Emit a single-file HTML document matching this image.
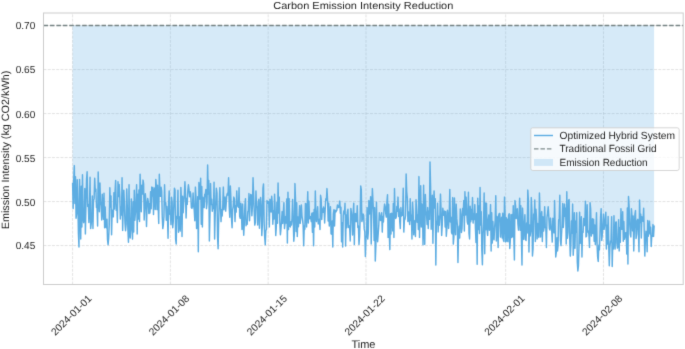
<!DOCTYPE html>
<html><head><meta charset="utf-8"><style>
html,body{margin:0;padding:0;background:#fff;}
svg{display:block;font-family:"Liberation Sans",sans-serif;text-rendering:geometricPrecision;}
</style></head><body>
<svg width="685" height="349" viewBox="0 0 685 349">
<defs><filter id="b" filterUnits="userSpaceOnUse" x="0" y="0" width="685" height="349" color-interpolation-filters="sRGB"><feConvolveMatrix order="3" kernelMatrix="0.01145 0.08410 0.01145 0.08410 0.61780 0.08410 0.01145 0.08410 0.01145" divisor="1" edgeMode="none"/></filter></defs>
<rect width="685" height="349" fill="#fff"/>
<g filter="url(#b)">
<g stroke="#cccccc" stroke-opacity="0.7" stroke-width="0.8" stroke-dasharray="2.96 1.28"><line x1="43.5" y1="245.55" x2="683.2" y2="245.55"/><line x1="43.5" y1="201.55" x2="683.2" y2="201.55"/><line x1="43.5" y1="157.55" x2="683.2" y2="157.55"/><line x1="43.5" y1="113.55" x2="683.2" y2="113.55"/><line x1="43.5" y1="69.55" x2="683.2" y2="69.55"/><line x1="43.5" y1="25.55" x2="683.2" y2="25.55"/><line x1="72.58" y1="284.5" x2="72.58" y2="13.0"/><line x1="170.38" y1="284.5" x2="170.38" y2="13.0"/><line x1="268.17" y1="284.5" x2="268.17" y2="13.0"/><line x1="365.97" y1="284.5" x2="365.97" y2="13.0"/><line x1="505.68" y1="284.5" x2="505.68" y2="13.0"/><line x1="603.48" y1="284.5" x2="603.48" y2="13.0"/></g>
<path d="M72.58,25.55 L72.58,182.70 L73.16,208.50 L73.74,179.53 L74.33,165.60 L74.91,203.51 L75.49,176.80 L76.07,218.19 L76.65,213.29 L77.24,179.80 L77.82,200.60 L78.40,233.34 L78.98,247.00 L79.57,179.46 L80.15,205.65 L80.73,239.10 L81.31,186.14 L81.89,227.00 L82.48,174.71 L83.06,217.33 L83.64,222.65 L84.22,218.96 L84.80,188.44 L85.39,233.90 L85.97,203.95 L86.55,179.24 L87.13,171.70 L87.72,206.56 L88.30,204.37 L88.88,222.50 L89.46,208.81 L90.04,177.34 L90.63,228.60 L91.21,223.97 L91.79,217.30 L92.37,195.99 L92.95,228.60 L93.54,200.76 L94.12,198.89 L94.70,178.30 L95.28,191.33 L95.86,189.17 L96.45,207.50 L97.03,206.70 L97.61,226.00 L98.19,172.00 L98.78,195.83 L99.36,211.82 L99.94,182.90 L100.52,201.28 L101.10,205.71 L101.69,219.90 L102.27,194.19 L102.85,209.87 L103.43,219.27 L104.01,193.16 L104.60,227.70 L105.18,206.90 L105.76,227.10 L106.34,227.72 L106.93,219.25 L107.51,239.56 L108.09,244.70 L108.67,237.91 L109.25,225.08 L109.84,187.80 L110.42,206.91 L111.00,195.94 L111.58,234.70 L112.16,210.10 L112.75,211.69 L113.33,216.87 L113.91,192.65 L114.49,208.96 L115.08,190.96 L115.66,180.40 L116.24,210.38 L116.82,205.47 L117.40,222.50 L117.99,181.80 L118.57,196.63 L119.15,184.39 L119.73,195.47 L120.31,219.00 L120.90,207.31 L121.48,215.13 L122.06,177.80 L122.64,230.40 L123.22,208.79 L123.81,190.13 L124.39,203.14 L124.97,222.64 L125.55,230.70 L126.14,224.49 L126.72,189.03 L127.30,206.65 L127.88,229.25 L128.46,242.30 L129.05,184.80 L129.63,235.15 L130.21,238.04 L130.79,223.79 L131.37,198.93 L131.96,228.92 L132.54,239.10 L133.12,201.67 L133.70,232.10 L134.29,190.18 L134.87,220.22 L135.45,212.54 L136.03,201.16 L136.61,184.80 L137.20,233.90 L137.78,194.32 L138.36,218.93 L138.94,190.03 L139.52,221.60 L140.11,174.30 L140.69,195.64 L141.27,211.66 L141.85,185.24 L142.44,194.14 L143.02,180.10 L143.60,183.75 L144.18,219.91 L144.76,204.09 L145.35,193.72 L145.93,203.62 L146.51,226.50 L147.09,204.36 L147.67,198.51 L148.26,201.28 L148.84,213.59 L149.42,203.76 L150.00,212.90 L150.58,191.69 L151.17,208.76 L151.75,187.10 L152.33,196.08 L152.91,187.51 L153.50,214.60 L154.08,191.04 L154.66,188.10 L155.24,209.54 L155.82,179.50 L156.41,187.35 L156.99,209.64 L157.57,185.24 L158.15,205.90 L158.73,223.40 L159.32,174.30 L159.90,190.70 L160.48,196.38 L161.06,187.16 L161.65,191.22 L162.23,217.01 L162.81,228.60 L163.39,224.29 L163.97,216.71 L164.56,184.80 L165.14,204.82 L165.72,202.75 L166.30,220.26 L166.88,206.39 L167.47,216.55 L168.05,238.30 L168.63,203.53 L169.21,190.90 L169.79,214.26 L170.38,214.85 L170.96,224.74 L171.54,197.34 L172.12,202.22 L172.71,227.70 L173.29,221.15 L173.87,203.18 L174.45,188.30 L175.03,190.12 L175.62,239.23 L176.20,244.00 L176.78,216.11 L177.36,218.35 L177.94,190.24 L178.53,232.26 L179.11,216.83 L179.69,222.89 L180.27,230.91 L180.86,187.40 L181.44,201.11 L182.02,236.50 L182.60,196.29 L183.18,212.71 L183.77,202.56 L184.35,195.26 L184.93,181.80 L185.51,195.09 L186.09,218.10 L186.68,198.41 L187.26,204.35 L187.84,190.24 L188.42,184.80 L189.00,189.25 L189.59,196.73 L190.17,191.73 L190.75,194.28 L191.33,207.60 L191.92,208.34 L192.50,205.81 L193.08,193.00 L193.66,205.37 L194.24,210.51 L194.83,220.70 L195.41,187.10 L195.99,197.66 L196.57,228.60 L197.15,218.20 L197.74,196.84 L198.32,251.70 L198.90,182.50 L199.48,191.58 L200.07,199.13 L200.65,178.30 L201.23,224.30 L201.81,186.50 L202.39,226.90 L202.98,197.22 L203.56,199.55 L204.14,207.60 L204.72,194.40 L205.30,194.00 L205.89,189.41 L206.47,208.64 L207.05,203.16 L207.63,165.00 L208.22,194.12 L208.80,180.40 L209.38,240.90 L209.96,214.85 L210.54,183.60 L211.13,204.48 L211.71,199.24 L212.29,211.22 L212.87,204.79 L213.45,208.47 L214.04,182.20 L214.62,239.10 L215.20,214.69 L215.78,201.35 L216.36,188.30 L216.95,192.74 L217.53,236.49 L218.11,248.80 L218.69,220.72 L219.28,203.33 L219.86,187.80 L220.44,204.97 L221.02,221.60 L221.60,209.63 L222.19,216.07 L222.77,205.44 L223.35,187.10 L223.93,209.68 L224.51,197.73 L225.10,197.10 L225.68,211.10 L226.26,203.16 L226.84,195.13 L227.43,193.16 L228.01,194.97 L228.59,177.80 L229.17,206.49 L229.75,217.20 L230.34,186.00 L230.92,198.92 L231.50,218.90 L232.08,227.70 L232.66,209.70 L233.25,206.54 L233.83,197.10 L234.41,199.13 L234.99,221.60 L235.57,206.06 L236.16,212.11 L236.74,190.90 L237.32,205.27 L237.90,206.33 L238.49,207.26 L239.07,187.80 L239.65,216.40 L240.23,218.31 L240.81,203.24 L241.40,212.47 L241.98,229.50 L242.56,204.10 L243.14,219.72 L243.72,235.30 L244.31,223.65 L244.89,206.23 L245.47,198.80 L246.05,225.72 L246.64,220.91 L247.22,224.20 L247.80,211.76 L248.38,210.15 L248.96,193.60 L249.55,220.70 L250.13,203.75 L250.71,194.40 L251.29,194.98 L251.87,215.81 L252.46,205.22 L253.04,177.80 L253.62,194.44 L254.20,211.71 L254.79,225.10 L255.37,222.45 L255.95,190.90 L256.53,206.48 L257.11,207.09 L257.70,225.10 L258.28,202.45 L258.86,199.30 L259.44,228.21 L260.02,213.24 L260.61,197.54 L261.19,205.08 L261.77,235.60 L262.35,225.55 L262.93,188.30 L263.52,183.90 L264.10,221.61 L264.68,237.00 L265.26,244.70 L265.85,230.36 L266.43,229.78 L267.01,200.60 L267.59,203.18 L268.17,201.33 L268.76,202.75 L269.34,226.90 L269.92,199.14 L270.50,201.06 L271.08,212.08 L271.67,196.20 L272.25,202.80 L272.83,224.20 L273.41,210.94 L274.00,219.04 L274.58,194.22 L275.16,209.60 L275.74,235.60 L276.32,227.04 L276.91,202.18 L277.49,223.28 L278.07,183.00 L278.65,213.08 L279.23,197.10 L279.82,222.98 L280.40,234.70 L280.98,228.62 L281.56,220.64 L282.15,211.60 L282.73,223.48 L283.31,212.26 L283.89,202.80 L284.47,228.60 L285.06,222.76 L285.64,216.46 L286.22,223.05 L286.80,198.90 L287.38,243.00 L287.97,192.30 L288.55,229.43 L289.13,198.80 L289.71,226.20 L290.29,226.90 L290.88,221.83 L291.46,224.94 L292.04,218.67 L292.62,199.43 L293.21,219.25 L293.79,241.20 L294.37,233.74 L294.95,183.60 L295.53,200.04 L296.12,231.60 L296.70,202.80 L297.28,236.50 L297.86,217.09 L298.44,226.68 L299.03,218.30 L299.61,205.80 L300.19,223.40 L300.77,216.82 L301.36,204.90 L301.94,215.75 L302.52,219.96 L303.10,224.87 L303.68,245.80 L304.27,225.68 L304.85,229.35 L305.43,203.50 L306.01,203.93 L306.59,226.90 L307.18,210.08 L307.76,191.80 L308.34,222.91 L308.92,201.10 L309.50,218.69 L310.09,216.42 L310.67,217.70 L311.25,221.60 L311.83,213.21 L312.42,232.32 L313.00,212.80 L313.58,245.80 L314.16,209.54 L314.74,226.98 L315.33,190.90 L315.91,216.93 L316.49,221.60 L317.07,213.61 L317.65,206.70 L318.24,223.96 L318.82,222.94 L319.40,219.18 L319.98,229.50 L320.57,195.30 L321.15,199.03 L321.73,219.49 L322.31,208.91 L322.89,212.36 L323.48,207.00 L324.06,209.28 L324.64,223.00 L325.22,209.42 L325.80,198.80 L326.39,200.15 L326.97,188.60 L327.55,199.82 L328.13,220.95 L328.71,203.20 L329.30,226.00 L329.88,217.44 L330.46,206.70 L331.04,233.79 L331.63,234.13 L332.21,221.00 L332.79,247.00 L333.37,213.75 L333.95,209.72 L334.54,226.00 L335.12,210.14 L335.70,212.11 L336.28,211.20 L336.86,210.07 L337.45,204.90 L338.03,207.60 L338.61,207.55 L339.19,205.51 L339.78,201.10 L340.36,213.15 L340.94,207.21 L341.52,241.80 L342.10,222.84 L342.69,247.00 L343.27,215.49 L343.85,210.95 L344.43,213.76 L345.01,203.20 L345.60,246.10 L346.18,214.91 L346.76,227.70 L347.34,212.20 L347.93,209.30 L348.51,227.47 L349.09,225.64 L349.67,228.04 L350.25,240.90 L350.84,208.40 L351.42,212.59 L352.00,217.49 L352.58,235.10 L353.16,213.56 L353.75,203.20 L354.33,244.40 L354.91,214.31 L355.49,213.57 L356.07,221.60 L356.66,221.53 L357.24,205.80 L357.82,227.60 L358.40,226.00 L358.99,244.40 L359.57,236.64 L360.15,218.14 L360.73,186.00 L361.31,189.95 L361.90,221.60 L362.48,218.53 L363.06,214.06 L363.64,215.32 L364.22,228.90 L364.81,231.92 L365.39,256.60 L365.97,238.67 L366.55,235.35 L367.14,207.60 L367.72,239.10 L368.30,232.70 L368.88,200.60 L369.46,213.98 L370.05,208.81 L370.63,196.78 L371.21,244.00 L371.79,210.96 L372.37,188.60 L372.96,200.65 L373.54,212.85 L374.12,240.41 L374.70,207.60 L375.28,261.00 L375.87,245.88 L376.45,202.30 L377.03,234.31 L377.61,241.80 L378.20,234.02 L378.78,225.66 L379.36,212.80 L379.94,215.60 L380.52,220.53 L381.11,220.14 L381.69,212.80 L382.27,232.10 L382.85,216.55 L383.43,221.95 L384.02,209.68 L384.60,204.10 L385.18,206.31 L385.76,213.70 L386.35,217.12 L386.93,201.68 L387.51,194.80 L388.09,237.40 L388.67,204.29 L389.26,233.60 L389.84,249.60 L390.42,213.70 L391.00,234.02 L391.58,213.28 L392.17,213.75 L392.75,230.90 L393.33,203.50 L393.91,237.40 L394.50,188.60 L395.08,215.13 L395.66,218.50 L396.24,217.23 L396.82,206.59 L397.41,211.21 L397.99,197.10 L398.57,216.40 L399.15,209.01 L399.73,221.17 L400.32,228.60 L400.90,207.60 L401.48,216.11 L402.06,213.85 L402.64,215.13 L403.23,188.30 L403.81,232.10 L404.39,220.24 L404.97,219.31 L405.56,215.33 L406.14,173.90 L406.72,191.71 L407.30,197.90 L407.88,221.60 L408.47,211.89 L409.05,214.94 L409.63,224.43 L410.21,198.80 L410.79,220.58 L411.38,215.22 L411.96,239.10 L412.54,202.30 L413.12,211.41 L413.71,234.85 L414.29,226.19 L414.87,220.60 L415.45,236.50 L416.03,199.70 L416.62,209.79 L417.20,222.24 L417.78,214.90 L418.36,229.42 L418.94,176.60 L419.53,237.40 L420.11,202.62 L420.69,185.70 L421.27,227.02 L421.86,204.07 L422.44,207.15 L423.02,244.70 L423.60,185.30 L424.18,228.76 L424.77,244.40 L425.35,194.40 L425.93,211.25 L426.51,213.77 L427.09,224.41 L427.68,207.60 L428.26,228.60 L428.84,210.98 L429.42,219.37 L430.00,162.00 L430.59,185.75 L431.17,229.26 L431.75,211.24 L432.33,195.30 L432.92,243.30 L433.50,204.48 L434.08,190.90 L434.66,207.96 L435.24,198.80 L435.83,265.10 L436.41,221.30 L436.99,224.53 L437.57,203.20 L438.15,231.90 L438.74,216.22 L439.32,225.18 L439.90,215.88 L440.48,194.10 L441.07,210.48 L441.65,235.40 L442.23,225.30 L442.81,208.30 L443.39,212.95 L443.98,215.24 L444.56,211.10 L445.14,226.92 L445.72,211.60 L446.30,236.20 L446.89,228.51 L447.47,210.14 L448.05,214.91 L448.63,228.40 L449.21,215.54 L449.80,189.50 L450.38,222.07 L450.96,217.33 L451.54,232.37 L452.13,233.92 L452.71,197.60 L453.29,244.10 L453.87,237.14 L454.45,197.90 L455.04,228.04 L455.62,234.74 L456.20,204.10 L456.78,218.63 L457.36,224.83 L457.95,262.50 L458.53,234.68 L459.11,226.30 L459.69,238.00 L460.28,209.01 L460.86,213.97 L461.44,232.52 L462.02,228.38 L462.60,208.59 L463.19,215.21 L463.77,200.60 L464.35,231.00 L464.93,191.80 L465.51,215.00 L466.10,197.10 L466.68,211.05 L467.26,222.02 L467.84,224.15 L468.43,192.30 L469.01,233.38 L469.59,238.90 L470.17,206.30 L470.75,221.79 L471.34,209.40 L471.92,219.45 L472.50,197.60 L473.08,223.10 L473.66,214.41 L474.25,219.57 L474.83,204.60 L475.41,227.76 L475.99,242.41 L476.57,213.83 L477.16,264.30 L477.74,198.11 L478.32,229.52 L478.90,205.87 L479.49,233.60 L480.07,187.40 L480.65,225.10 L481.23,211.60 L481.81,249.64 L482.40,264.80 L482.98,233.27 L483.56,222.05 L484.14,193.00 L484.72,253.80 L485.31,202.88 L485.89,229.65 L486.47,203.13 L487.05,229.48 L487.64,235.40 L488.22,219.79 L488.80,215.03 L489.38,230.20 L489.96,222.63 L490.55,204.60 L491.13,251.10 L491.71,212.80 L492.29,243.01 L492.87,221.48 L493.46,237.71 L494.04,239.70 L494.62,227.08 L495.20,220.56 L495.78,195.80 L496.37,241.01 L496.95,216.56 L497.53,217.19 L498.11,247.60 L498.70,215.14 L499.28,213.45 L499.86,213.70 L500.44,237.10 L501.02,223.04 L501.61,217.13 L502.19,237.97 L502.77,213.32 L503.35,240.06 L503.93,241.50 L504.52,197.10 L505.10,215.13 L505.68,241.92 L506.26,217.84 L506.85,241.05 L507.43,219.23 L508.01,241.67 L508.59,215.30 L509.17,213.70 L509.76,248.50 L510.34,239.98 L510.92,214.81 L511.50,237.41 L512.08,214.44 L512.67,236.78 L513.25,205.80 L513.83,237.73 L514.41,259.90 L515.00,200.60 L515.58,205.83 L516.16,218.56 L516.74,212.44 L517.32,208.70 L517.91,223.91 L518.49,230.10 L519.07,217.31 L519.65,198.30 L520.23,230.16 L520.82,205.80 L521.40,238.25 L521.98,265.10 L522.56,208.10 L523.14,223.36 L523.73,239.44 L524.31,226.16 L524.89,214.73 L525.47,239.15 L526.06,240.60 L526.64,223.01 L527.22,233.11 L527.80,190.10 L528.38,200.18 L528.97,252.00 L529.55,224.92 L530.13,236.02 L530.71,231.23 L531.29,197.60 L531.88,209.89 L532.46,256.00 L533.04,248.74 L533.62,214.20 L534.21,219.01 L534.79,200.00 L535.37,241.50 L535.95,209.30 L536.53,218.47 L537.12,238.90 L537.70,223.38 L538.28,233.39 L538.86,237.46 L539.44,193.00 L540.03,213.65 L540.61,237.01 L541.19,214.67 L541.77,211.60 L542.35,241.50 L542.94,216.69 L543.52,231.09 L544.10,227.52 L544.68,206.70 L545.27,227.37 L545.85,228.09 L546.43,247.60 L547.01,217.30 L547.59,213.29 L548.18,206.70 L548.76,215.93 L549.34,228.54 L549.92,230.10 L550.50,218.10 L551.09,225.32 L551.67,229.90 L552.25,242.10 L552.83,218.23 L553.42,225.07 L554.00,232.89 L554.58,200.60 L555.16,228.85 L555.74,257.00 L556.33,251.87 L556.91,237.69 L557.49,250.90 L558.07,245.37 L558.65,220.24 L559.24,218.39 L559.82,195.30 L560.40,240.08 L560.98,245.60 L561.56,234.48 L562.15,223.19 L562.73,203.51 L563.31,227.56 L563.89,217.66 L564.48,204.10 L565.06,216.33 L565.64,208.26 L566.22,243.90 L566.80,191.80 L567.39,238.19 L567.97,232.37 L568.55,200.47 L569.13,199.50 L569.71,238.87 L570.30,256.10 L570.88,244.61 L571.46,220.91 L572.04,233.18 L572.63,204.10 L573.21,255.30 L573.79,244.74 L574.37,212.80 L574.95,248.27 L575.54,221.33 L576.12,232.37 L576.70,212.80 L577.28,261.63 L577.86,271.00 L578.45,265.66 L579.03,246.70 L579.61,212.30 L580.19,243.52 L580.78,232.54 L581.36,216.70 L581.94,257.00 L582.52,231.60 L583.10,232.35 L583.69,218.53 L584.27,225.59 L584.85,222.90 L585.43,201.30 L586.01,236.90 L586.60,236.12 L587.18,204.80 L587.76,232.13 L588.34,230.94 L588.92,234.38 L589.51,247.40 L590.09,202.70 L590.67,209.05 L591.25,236.08 L591.84,232.84 L592.42,218.84 L593.00,233.51 L593.58,219.30 L594.16,241.20 L594.75,224.98 L595.33,244.57 L595.91,233.43 L596.49,212.80 L597.07,244.95 L597.66,257.15 L598.24,261.40 L598.82,245.27 L599.40,249.88 L599.99,234.58 L600.57,217.40 L601.15,208.80 L601.73,240.40 L602.31,234.66 L602.90,224.73 L603.48,214.10 L604.06,229.37 L604.64,225.15 L605.22,218.98 L605.81,212.30 L606.39,249.10 L606.97,225.34 L607.55,243.91 L608.13,216.45 L608.72,245.96 L609.30,265.80 L609.88,247.48 L610.46,240.98 L611.05,241.87 L611.63,216.70 L612.21,266.60 L612.79,243.00 L613.37,248.97 L613.96,215.80 L614.54,242.19 L615.12,249.10 L615.70,222.35 L616.28,221.90 L616.87,243.21 L617.45,248.07 L618.03,245.34 L618.61,219.79 L619.20,250.90 L619.78,227.85 L620.36,242.20 L620.94,208.80 L621.52,229.27 L622.11,229.24 L622.69,211.80 L623.27,241.20 L623.85,221.59 L624.43,239.20 L625.02,236.58 L625.60,232.64 L626.18,232.72 L626.76,254.06 L627.35,207.90 L627.93,264.00 L628.51,196.50 L629.09,206.40 L629.67,222.87 L630.26,234.38 L630.84,236.90 L631.42,208.80 L632.00,216.07 L632.58,230.87 L633.17,215.95 L633.75,250.90 L634.33,228.59 L634.91,214.37 L635.49,210.60 L636.08,238.52 L636.66,234.17 L637.24,220.27 L637.82,219.27 L638.41,230.95 L638.99,251.80 L639.57,200.10 L640.15,222.53 L640.73,214.31 L641.32,237.96 L641.90,216.70 L642.48,218.40 L643.06,221.17 L643.64,208.30 L644.23,232.29 L644.81,256.10 L645.39,239.81 L645.97,231.33 L646.56,233.01 L647.14,251.80 L647.72,220.43 L648.30,236.25 L648.88,229.68 L649.47,221.10 L650.05,234.07 L650.63,227.18 L651.21,246.50 L651.79,235.54 L652.38,236.46 L652.96,224.60 L653.54,236.40 L654.12,225.50 L654.12,25.55 Z" fill="#5dade2" fill-opacity="0.25" stroke="none"/>
<line x1="43.5" y1="25.45" x2="683.2" y2="25.45" stroke="#758283" stroke-width="1.5" stroke-dasharray="4.5 1.95"/>
<polyline points="72.58,182.70 73.16,208.50 73.74,179.53 74.33,165.60 74.91,203.51 75.49,176.80 76.07,218.19 76.65,213.29 77.24,179.80 77.82,200.60 78.40,233.34 78.98,247.00 79.57,179.46 80.15,205.65 80.73,239.10 81.31,186.14 81.89,227.00 82.48,174.71 83.06,217.33 83.64,222.65 84.22,218.96 84.80,188.44 85.39,233.90 85.97,203.95 86.55,179.24 87.13,171.70 87.72,206.56 88.30,204.37 88.88,222.50 89.46,208.81 90.04,177.34 90.63,228.60 91.21,223.97 91.79,217.30 92.37,195.99 92.95,228.60 93.54,200.76 94.12,198.89 94.70,178.30 95.28,191.33 95.86,189.17 96.45,207.50 97.03,206.70 97.61,226.00 98.19,172.00 98.78,195.83 99.36,211.82 99.94,182.90 100.52,201.28 101.10,205.71 101.69,219.90 102.27,194.19 102.85,209.87 103.43,219.27 104.01,193.16 104.60,227.70 105.18,206.90 105.76,227.10 106.34,227.72 106.93,219.25 107.51,239.56 108.09,244.70 108.67,237.91 109.25,225.08 109.84,187.80 110.42,206.91 111.00,195.94 111.58,234.70 112.16,210.10 112.75,211.69 113.33,216.87 113.91,192.65 114.49,208.96 115.08,190.96 115.66,180.40 116.24,210.38 116.82,205.47 117.40,222.50 117.99,181.80 118.57,196.63 119.15,184.39 119.73,195.47 120.31,219.00 120.90,207.31 121.48,215.13 122.06,177.80 122.64,230.40 123.22,208.79 123.81,190.13 124.39,203.14 124.97,222.64 125.55,230.70 126.14,224.49 126.72,189.03 127.30,206.65 127.88,229.25 128.46,242.30 129.05,184.80 129.63,235.15 130.21,238.04 130.79,223.79 131.37,198.93 131.96,228.92 132.54,239.10 133.12,201.67 133.70,232.10 134.29,190.18 134.87,220.22 135.45,212.54 136.03,201.16 136.61,184.80 137.20,233.90 137.78,194.32 138.36,218.93 138.94,190.03 139.52,221.60 140.11,174.30 140.69,195.64 141.27,211.66 141.85,185.24 142.44,194.14 143.02,180.10 143.60,183.75 144.18,219.91 144.76,204.09 145.35,193.72 145.93,203.62 146.51,226.50 147.09,204.36 147.67,198.51 148.26,201.28 148.84,213.59 149.42,203.76 150.00,212.90 150.58,191.69 151.17,208.76 151.75,187.10 152.33,196.08 152.91,187.51 153.50,214.60 154.08,191.04 154.66,188.10 155.24,209.54 155.82,179.50 156.41,187.35 156.99,209.64 157.57,185.24 158.15,205.90 158.73,223.40 159.32,174.30 159.90,190.70 160.48,196.38 161.06,187.16 161.65,191.22 162.23,217.01 162.81,228.60 163.39,224.29 163.97,216.71 164.56,184.80 165.14,204.82 165.72,202.75 166.30,220.26 166.88,206.39 167.47,216.55 168.05,238.30 168.63,203.53 169.21,190.90 169.79,214.26 170.38,214.85 170.96,224.74 171.54,197.34 172.12,202.22 172.71,227.70 173.29,221.15 173.87,203.18 174.45,188.30 175.03,190.12 175.62,239.23 176.20,244.00 176.78,216.11 177.36,218.35 177.94,190.24 178.53,232.26 179.11,216.83 179.69,222.89 180.27,230.91 180.86,187.40 181.44,201.11 182.02,236.50 182.60,196.29 183.18,212.71 183.77,202.56 184.35,195.26 184.93,181.80 185.51,195.09 186.09,218.10 186.68,198.41 187.26,204.35 187.84,190.24 188.42,184.80 189.00,189.25 189.59,196.73 190.17,191.73 190.75,194.28 191.33,207.60 191.92,208.34 192.50,205.81 193.08,193.00 193.66,205.37 194.24,210.51 194.83,220.70 195.41,187.10 195.99,197.66 196.57,228.60 197.15,218.20 197.74,196.84 198.32,251.70 198.90,182.50 199.48,191.58 200.07,199.13 200.65,178.30 201.23,224.30 201.81,186.50 202.39,226.90 202.98,197.22 203.56,199.55 204.14,207.60 204.72,194.40 205.30,194.00 205.89,189.41 206.47,208.64 207.05,203.16 207.63,165.00 208.22,194.12 208.80,180.40 209.38,240.90 209.96,214.85 210.54,183.60 211.13,204.48 211.71,199.24 212.29,211.22 212.87,204.79 213.45,208.47 214.04,182.20 214.62,239.10 215.20,214.69 215.78,201.35 216.36,188.30 216.95,192.74 217.53,236.49 218.11,248.80 218.69,220.72 219.28,203.33 219.86,187.80 220.44,204.97 221.02,221.60 221.60,209.63 222.19,216.07 222.77,205.44 223.35,187.10 223.93,209.68 224.51,197.73 225.10,197.10 225.68,211.10 226.26,203.16 226.84,195.13 227.43,193.16 228.01,194.97 228.59,177.80 229.17,206.49 229.75,217.20 230.34,186.00 230.92,198.92 231.50,218.90 232.08,227.70 232.66,209.70 233.25,206.54 233.83,197.10 234.41,199.13 234.99,221.60 235.57,206.06 236.16,212.11 236.74,190.90 237.32,205.27 237.90,206.33 238.49,207.26 239.07,187.80 239.65,216.40 240.23,218.31 240.81,203.24 241.40,212.47 241.98,229.50 242.56,204.10 243.14,219.72 243.72,235.30 244.31,223.65 244.89,206.23 245.47,198.80 246.05,225.72 246.64,220.91 247.22,224.20 247.80,211.76 248.38,210.15 248.96,193.60 249.55,220.70 250.13,203.75 250.71,194.40 251.29,194.98 251.87,215.81 252.46,205.22 253.04,177.80 253.62,194.44 254.20,211.71 254.79,225.10 255.37,222.45 255.95,190.90 256.53,206.48 257.11,207.09 257.70,225.10 258.28,202.45 258.86,199.30 259.44,228.21 260.02,213.24 260.61,197.54 261.19,205.08 261.77,235.60 262.35,225.55 262.93,188.30 263.52,183.90 264.10,221.61 264.68,237.00 265.26,244.70 265.85,230.36 266.43,229.78 267.01,200.60 267.59,203.18 268.17,201.33 268.76,202.75 269.34,226.90 269.92,199.14 270.50,201.06 271.08,212.08 271.67,196.20 272.25,202.80 272.83,224.20 273.41,210.94 274.00,219.04 274.58,194.22 275.16,209.60 275.74,235.60 276.32,227.04 276.91,202.18 277.49,223.28 278.07,183.00 278.65,213.08 279.23,197.10 279.82,222.98 280.40,234.70 280.98,228.62 281.56,220.64 282.15,211.60 282.73,223.48 283.31,212.26 283.89,202.80 284.47,228.60 285.06,222.76 285.64,216.46 286.22,223.05 286.80,198.90 287.38,243.00 287.97,192.30 288.55,229.43 289.13,198.80 289.71,226.20 290.29,226.90 290.88,221.83 291.46,224.94 292.04,218.67 292.62,199.43 293.21,219.25 293.79,241.20 294.37,233.74 294.95,183.60 295.53,200.04 296.12,231.60 296.70,202.80 297.28,236.50 297.86,217.09 298.44,226.68 299.03,218.30 299.61,205.80 300.19,223.40 300.77,216.82 301.36,204.90 301.94,215.75 302.52,219.96 303.10,224.87 303.68,245.80 304.27,225.68 304.85,229.35 305.43,203.50 306.01,203.93 306.59,226.90 307.18,210.08 307.76,191.80 308.34,222.91 308.92,201.10 309.50,218.69 310.09,216.42 310.67,217.70 311.25,221.60 311.83,213.21 312.42,232.32 313.00,212.80 313.58,245.80 314.16,209.54 314.74,226.98 315.33,190.90 315.91,216.93 316.49,221.60 317.07,213.61 317.65,206.70 318.24,223.96 318.82,222.94 319.40,219.18 319.98,229.50 320.57,195.30 321.15,199.03 321.73,219.49 322.31,208.91 322.89,212.36 323.48,207.00 324.06,209.28 324.64,223.00 325.22,209.42 325.80,198.80 326.39,200.15 326.97,188.60 327.55,199.82 328.13,220.95 328.71,203.20 329.30,226.00 329.88,217.44 330.46,206.70 331.04,233.79 331.63,234.13 332.21,221.00 332.79,247.00 333.37,213.75 333.95,209.72 334.54,226.00 335.12,210.14 335.70,212.11 336.28,211.20 336.86,210.07 337.45,204.90 338.03,207.60 338.61,207.55 339.19,205.51 339.78,201.10 340.36,213.15 340.94,207.21 341.52,241.80 342.10,222.84 342.69,247.00 343.27,215.49 343.85,210.95 344.43,213.76 345.01,203.20 345.60,246.10 346.18,214.91 346.76,227.70 347.34,212.20 347.93,209.30 348.51,227.47 349.09,225.64 349.67,228.04 350.25,240.90 350.84,208.40 351.42,212.59 352.00,217.49 352.58,235.10 353.16,213.56 353.75,203.20 354.33,244.40 354.91,214.31 355.49,213.57 356.07,221.60 356.66,221.53 357.24,205.80 357.82,227.60 358.40,226.00 358.99,244.40 359.57,236.64 360.15,218.14 360.73,186.00 361.31,189.95 361.90,221.60 362.48,218.53 363.06,214.06 363.64,215.32 364.22,228.90 364.81,231.92 365.39,256.60 365.97,238.67 366.55,235.35 367.14,207.60 367.72,239.10 368.30,232.70 368.88,200.60 369.46,213.98 370.05,208.81 370.63,196.78 371.21,244.00 371.79,210.96 372.37,188.60 372.96,200.65 373.54,212.85 374.12,240.41 374.70,207.60 375.28,261.00 375.87,245.88 376.45,202.30 377.03,234.31 377.61,241.80 378.20,234.02 378.78,225.66 379.36,212.80 379.94,215.60 380.52,220.53 381.11,220.14 381.69,212.80 382.27,232.10 382.85,216.55 383.43,221.95 384.02,209.68 384.60,204.10 385.18,206.31 385.76,213.70 386.35,217.12 386.93,201.68 387.51,194.80 388.09,237.40 388.67,204.29 389.26,233.60 389.84,249.60 390.42,213.70 391.00,234.02 391.58,213.28 392.17,213.75 392.75,230.90 393.33,203.50 393.91,237.40 394.50,188.60 395.08,215.13 395.66,218.50 396.24,217.23 396.82,206.59 397.41,211.21 397.99,197.10 398.57,216.40 399.15,209.01 399.73,221.17 400.32,228.60 400.90,207.60 401.48,216.11 402.06,213.85 402.64,215.13 403.23,188.30 403.81,232.10 404.39,220.24 404.97,219.31 405.56,215.33 406.14,173.90 406.72,191.71 407.30,197.90 407.88,221.60 408.47,211.89 409.05,214.94 409.63,224.43 410.21,198.80 410.79,220.58 411.38,215.22 411.96,239.10 412.54,202.30 413.12,211.41 413.71,234.85 414.29,226.19 414.87,220.60 415.45,236.50 416.03,199.70 416.62,209.79 417.20,222.24 417.78,214.90 418.36,229.42 418.94,176.60 419.53,237.40 420.11,202.62 420.69,185.70 421.27,227.02 421.86,204.07 422.44,207.15 423.02,244.70 423.60,185.30 424.18,228.76 424.77,244.40 425.35,194.40 425.93,211.25 426.51,213.77 427.09,224.41 427.68,207.60 428.26,228.60 428.84,210.98 429.42,219.37 430.00,162.00 430.59,185.75 431.17,229.26 431.75,211.24 432.33,195.30 432.92,243.30 433.50,204.48 434.08,190.90 434.66,207.96 435.24,198.80 435.83,265.10 436.41,221.30 436.99,224.53 437.57,203.20 438.15,231.90 438.74,216.22 439.32,225.18 439.90,215.88 440.48,194.10 441.07,210.48 441.65,235.40 442.23,225.30 442.81,208.30 443.39,212.95 443.98,215.24 444.56,211.10 445.14,226.92 445.72,211.60 446.30,236.20 446.89,228.51 447.47,210.14 448.05,214.91 448.63,228.40 449.21,215.54 449.80,189.50 450.38,222.07 450.96,217.33 451.54,232.37 452.13,233.92 452.71,197.60 453.29,244.10 453.87,237.14 454.45,197.90 455.04,228.04 455.62,234.74 456.20,204.10 456.78,218.63 457.36,224.83 457.95,262.50 458.53,234.68 459.11,226.30 459.69,238.00 460.28,209.01 460.86,213.97 461.44,232.52 462.02,228.38 462.60,208.59 463.19,215.21 463.77,200.60 464.35,231.00 464.93,191.80 465.51,215.00 466.10,197.10 466.68,211.05 467.26,222.02 467.84,224.15 468.43,192.30 469.01,233.38 469.59,238.90 470.17,206.30 470.75,221.79 471.34,209.40 471.92,219.45 472.50,197.60 473.08,223.10 473.66,214.41 474.25,219.57 474.83,204.60 475.41,227.76 475.99,242.41 476.57,213.83 477.16,264.30 477.74,198.11 478.32,229.52 478.90,205.87 479.49,233.60 480.07,187.40 480.65,225.10 481.23,211.60 481.81,249.64 482.40,264.80 482.98,233.27 483.56,222.05 484.14,193.00 484.72,253.80 485.31,202.88 485.89,229.65 486.47,203.13 487.05,229.48 487.64,235.40 488.22,219.79 488.80,215.03 489.38,230.20 489.96,222.63 490.55,204.60 491.13,251.10 491.71,212.80 492.29,243.01 492.87,221.48 493.46,237.71 494.04,239.70 494.62,227.08 495.20,220.56 495.78,195.80 496.37,241.01 496.95,216.56 497.53,217.19 498.11,247.60 498.70,215.14 499.28,213.45 499.86,213.70 500.44,237.10 501.02,223.04 501.61,217.13 502.19,237.97 502.77,213.32 503.35,240.06 503.93,241.50 504.52,197.10 505.10,215.13 505.68,241.92 506.26,217.84 506.85,241.05 507.43,219.23 508.01,241.67 508.59,215.30 509.17,213.70 509.76,248.50 510.34,239.98 510.92,214.81 511.50,237.41 512.08,214.44 512.67,236.78 513.25,205.80 513.83,237.73 514.41,259.90 515.00,200.60 515.58,205.83 516.16,218.56 516.74,212.44 517.32,208.70 517.91,223.91 518.49,230.10 519.07,217.31 519.65,198.30 520.23,230.16 520.82,205.80 521.40,238.25 521.98,265.10 522.56,208.10 523.14,223.36 523.73,239.44 524.31,226.16 524.89,214.73 525.47,239.15 526.06,240.60 526.64,223.01 527.22,233.11 527.80,190.10 528.38,200.18 528.97,252.00 529.55,224.92 530.13,236.02 530.71,231.23 531.29,197.60 531.88,209.89 532.46,256.00 533.04,248.74 533.62,214.20 534.21,219.01 534.79,200.00 535.37,241.50 535.95,209.30 536.53,218.47 537.12,238.90 537.70,223.38 538.28,233.39 538.86,237.46 539.44,193.00 540.03,213.65 540.61,237.01 541.19,214.67 541.77,211.60 542.35,241.50 542.94,216.69 543.52,231.09 544.10,227.52 544.68,206.70 545.27,227.37 545.85,228.09 546.43,247.60 547.01,217.30 547.59,213.29 548.18,206.70 548.76,215.93 549.34,228.54 549.92,230.10 550.50,218.10 551.09,225.32 551.67,229.90 552.25,242.10 552.83,218.23 553.42,225.07 554.00,232.89 554.58,200.60 555.16,228.85 555.74,257.00 556.33,251.87 556.91,237.69 557.49,250.90 558.07,245.37 558.65,220.24 559.24,218.39 559.82,195.30 560.40,240.08 560.98,245.60 561.56,234.48 562.15,223.19 562.73,203.51 563.31,227.56 563.89,217.66 564.48,204.10 565.06,216.33 565.64,208.26 566.22,243.90 566.80,191.80 567.39,238.19 567.97,232.37 568.55,200.47 569.13,199.50 569.71,238.87 570.30,256.10 570.88,244.61 571.46,220.91 572.04,233.18 572.63,204.10 573.21,255.30 573.79,244.74 574.37,212.80 574.95,248.27 575.54,221.33 576.12,232.37 576.70,212.80 577.28,261.63 577.86,271.00 578.45,265.66 579.03,246.70 579.61,212.30 580.19,243.52 580.78,232.54 581.36,216.70 581.94,257.00 582.52,231.60 583.10,232.35 583.69,218.53 584.27,225.59 584.85,222.90 585.43,201.30 586.01,236.90 586.60,236.12 587.18,204.80 587.76,232.13 588.34,230.94 588.92,234.38 589.51,247.40 590.09,202.70 590.67,209.05 591.25,236.08 591.84,232.84 592.42,218.84 593.00,233.51 593.58,219.30 594.16,241.20 594.75,224.98 595.33,244.57 595.91,233.43 596.49,212.80 597.07,244.95 597.66,257.15 598.24,261.40 598.82,245.27 599.40,249.88 599.99,234.58 600.57,217.40 601.15,208.80 601.73,240.40 602.31,234.66 602.90,224.73 603.48,214.10 604.06,229.37 604.64,225.15 605.22,218.98 605.81,212.30 606.39,249.10 606.97,225.34 607.55,243.91 608.13,216.45 608.72,245.96 609.30,265.80 609.88,247.48 610.46,240.98 611.05,241.87 611.63,216.70 612.21,266.60 612.79,243.00 613.37,248.97 613.96,215.80 614.54,242.19 615.12,249.10 615.70,222.35 616.28,221.90 616.87,243.21 617.45,248.07 618.03,245.34 618.61,219.79 619.20,250.90 619.78,227.85 620.36,242.20 620.94,208.80 621.52,229.27 622.11,229.24 622.69,211.80 623.27,241.20 623.85,221.59 624.43,239.20 625.02,236.58 625.60,232.64 626.18,232.72 626.76,254.06 627.35,207.90 627.93,264.00 628.51,196.50 629.09,206.40 629.67,222.87 630.26,234.38 630.84,236.90 631.42,208.80 632.00,216.07 632.58,230.87 633.17,215.95 633.75,250.90 634.33,228.59 634.91,214.37 635.49,210.60 636.08,238.52 636.66,234.17 637.24,220.27 637.82,219.27 638.41,230.95 638.99,251.80 639.57,200.10 640.15,222.53 640.73,214.31 641.32,237.96 641.90,216.70 642.48,218.40 643.06,221.17 643.64,208.30 644.23,232.29 644.81,256.10 645.39,239.81 645.97,231.33 646.56,233.01 647.14,251.80 647.72,220.43 648.30,236.25 648.88,229.68 649.47,221.10 650.05,234.07 650.63,227.18 651.21,246.50 651.79,235.54 652.38,236.46 652.96,224.60 653.54,236.40 654.12,225.50" fill="none" stroke="#5dade2" stroke-width="1.45" stroke-linejoin="round"/>
<rect x="43.5" y="13.0" width="639.70" height="271.50" fill="none" stroke="#cccccc" stroke-width="1"/>
<g fill="#1e1e1e">
<text x="363.3" y="9.0" text-anchor="middle" font-size="10.2" textLength="180.0" lengthAdjust="spacingAndGlyphs">Carbon Emission Intensity Reduction</text>
<g font-size="10.2" text-anchor="end"><text x="35.3" y="249.35" textLength="19.6" lengthAdjust="spacingAndGlyphs">0.45</text><text x="35.3" y="205.55" textLength="19.6" lengthAdjust="spacingAndGlyphs">0.50</text><text x="35.3" y="161.55" textLength="19.6" lengthAdjust="spacingAndGlyphs">0.55</text><text x="35.3" y="117.55" textLength="19.6" lengthAdjust="spacingAndGlyphs">0.60</text><text x="35.3" y="73.35" textLength="19.6" lengthAdjust="spacingAndGlyphs">0.65</text><text x="35.3" y="29.35" textLength="19.6" lengthAdjust="spacingAndGlyphs">0.70</text></g>
<g font-size="10.2" text-anchor="middle"><text transform="translate(71.18,315.05) rotate(-45)" y="3.6">2024-01-01</text><text transform="translate(168.98,315.05) rotate(-45)" y="3.6">2024-01-08</text><text transform="translate(266.77,315.05) rotate(-45)" y="3.6">2024-01-15</text><text transform="translate(364.57,315.05) rotate(-45)" y="3.6">2024-01-22</text><text transform="translate(504.28,315.05) rotate(-45)" y="3.6">2024-02-01</text><text transform="translate(602.08,315.05) rotate(-45)" y="3.6">2024-02-08</text></g>
<text x="363.4" y="347.9" text-anchor="middle" font-size="11.0">Time</text>
<text transform="translate(9.2,150.0) rotate(-90)" text-anchor="middle" font-size="10.6" textLength="158.5" lengthAdjust="spacingAndGlyphs">Emission Intensity (kg CO2/kWh)</text>
</g>
<g>
<rect x="530.8" y="127.8" width="148.4" height="42.7" rx="2" fill="#fff" fill-opacity="0.8" stroke="#cccccc" stroke-width="0.8"/>
<line x1="534" y1="135.5" x2="553" y2="135.5" stroke="#5dade2" stroke-width="1.45"/>
<line x1="534" y1="148.8" x2="553" y2="148.8" stroke="#7f8c8d" stroke-width="1.22" stroke-dasharray="4.5 1.95"/>
<rect x="534" y="158.9" width="19" height="7" fill="#5dade2" fill-opacity="0.25"/>
<g fill="#1e1e1e" font-size="10.4">
<text x="559.5" y="138.6" textLength="115.5" lengthAdjust="spacingAndGlyphs">Optimized Hybrid System</text>
<text x="559.5" y="152.4" textLength="97" lengthAdjust="spacingAndGlyphs">Traditional Fossil Grid</text>
<text x="559.5" y="165.7" textLength="88" lengthAdjust="spacingAndGlyphs">Emission Reduction</text>
</g>
</g>
</g>
</svg>
</body></html>
